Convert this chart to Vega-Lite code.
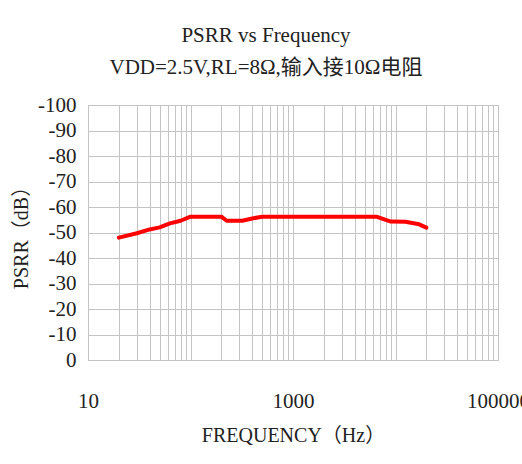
{
  "$schema": "https://vega.github.io/schema/vega-lite/v6.json",
  "width": 410,
  "height": 255,
  "autosize": {"type": "none"},
  "padding": {"left": 88, "top": 105, "right": 24, "bottom": 104},
  "background": "white",
  "title": {
    "text": ["PSRR vs Frequency", "VDD=2.5V,RL=8Ω,输入接10Ω电阻"],
    "anchor": "middle",
    "frame": "group",
    "dx": -27,
    "offset": 16,
    "font": "Liberation Serif, Noto Sans CJK SC",
    "fontSize": 21,
    "fontWeight": "normal",
    "lineHeight": 32,
    "color": "#222222"
  },
  "data": {
    "values": [
      {"freq": 20, "psrr": -48.0},
      {"freq": 30, "psrr": -49.7},
      {"freq": 40, "psrr": -51.2},
      {"freq": 50, "psrr": -52.0},
      {"freq": 63, "psrr": -53.6},
      {"freq": 80, "psrr": -54.6},
      {"freq": 100, "psrr": -56.2},
      {"freq": 200, "psrr": -56.2},
      {"freq": 225, "psrr": -54.6},
      {"freq": 320, "psrr": -54.6},
      {"freq": 400, "psrr": -55.5},
      {"freq": 500, "psrr": -56.2},
      {"freq": 6500, "psrr": -56.2},
      {"freq": 9000, "psrr": -54.3},
      {"freq": 12500, "psrr": -54.2},
      {"freq": 17000, "psrr": -53.2},
      {"freq": 20000, "psrr": -51.9}
    ]
  },
  "mark": {"type": "line", "color": "#ff0000", "strokeWidth": 4, "strokeJoin": "round", "strokeCap": "round"},
  "encoding": {
    "x": {
      "field": "freq",
      "type": "quantitative",
      "scale": {"type": "log", "domain": [10, 100000], "nice": false},
      "axis": {
        "title": "FREQUENCY（Hz）",
        "values": [10,20,30,40,50,60,70,80,90,100,200,300,400,500,600,700,800,900,1000,2000,3000,4000,5000,6000,7000,8000,9000,10000,20000,30000,40000,50000,60000,70000,80000,90000,100000],
        "labelExpr": "datum.value == 10 || datum.value == 1000 || datum.value == 100000 ? '' + datum.value : ''",
        "labelOverlap": false,
        "labelFlush": false,
        "labelBound": false,
        "ticks": false,
        "domain": false,
        "labelPadding": 30,
        "titlePadding": 14
      }
    },
    "y": {
      "field": "psrr",
      "type": "quantitative",
      "scale": {"domain": [-100, 0], "reverse": true, "nice": false},
      "axis": {
        "title": "PSRR（dB）",
        "values": [-100,-90,-80,-70,-60,-50,-40,-30,-20,-10,0],
        "labelExpr": "'' + datum.value",
        "ticks": false,
        "domain": false,
        "labelPadding": 12,
        "titlePadding": 6
      }
    }
  },
  "config": {
    "view": {"stroke": "#c0c0c0", "strokeWidth": 1},
    "axis": {
      "grid": true,
      "gridColor": "#c4c4c4",
      "gridOpacity": 1,
      "gridWidth": 1,
      "labelFont": "Liberation Serif, Noto Sans CJK SC",
      "labelFontSize": 21,
      "labelColor": "#222222",
      "titleFont": "Liberation Serif, Noto Sans CJK SC",
      "titleFontSize": 20,
      "titleFontWeight": "normal",
      "titleColor": "#222222"
    }
  }
}
